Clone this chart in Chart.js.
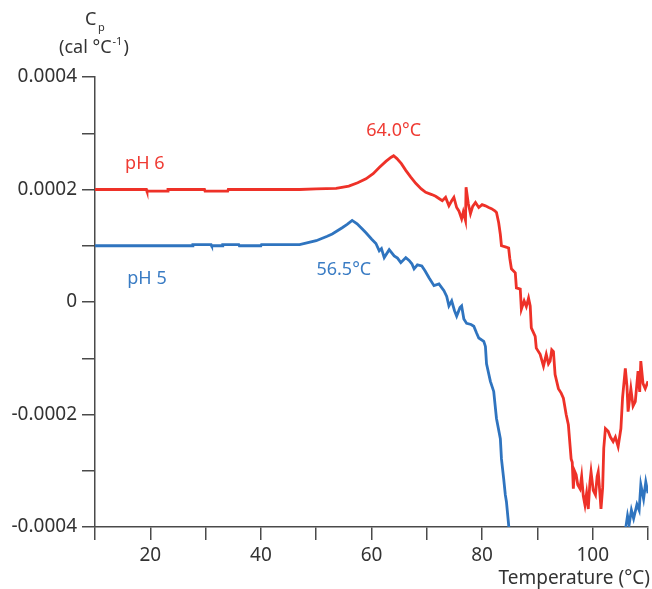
<!DOCTYPE html>
<html lang="en">
<head>
  <meta charset="UTF-8" />
  <title>Cp vs Temperature</title>
  <script src="https://cdn.jsdelivr.net/npm/chart.js@4.4.0/dist/chart.umd.min.js"></script>
  <style>
    body { margin: 0; background: #fff; }
    #wrap { width: 652px; height: 589px; }
  </style>
</head>
<body>
  <div id="wrap"><canvas id="cpChart" width="652" height="589"></canvas></div>

  <script>
    // Cp values are in units of 1e-4 cal/°C
    const tempPH6 = [10, 19.3, 19.4, 23.1, 23.2, 29.8, 29.9, 34.0, 34.1, 47.0, 50.0, 53.6, 55.9, 57.5, 59.0, 60.3,
      61.4, 62.6, 63.5, 64.0, 64.6, 65.4, 66.2, 67.1, 68.0, 69.0, 69.8, 70.9, 71.6, 72.2, 72.8, 73.4, 74.0, 74.5,
      74.9, 75.4, 75.8, 76.3, 76.6, 77.0, 77.1, 77.5, 77.9, 78.3, 78.8, 79.4, 80.0, 80.6, 81.2, 81.7, 82.3, 82.6,
      83.0, 83.3, 83.5, 84.2, 84.8, 85.0, 85.3, 86.0, 86.2, 86.9, 87.1, 87.6, 88.0, 88.4, 88.7, 88.9, 89.6, 89.8,
      90.5, 91.1, 91.6, 92.0, 92.3, 92.6, 92.9, 93.2, 93.8, 94.3, 94.7, 95.2, 95.6, 96.1, 96.3, 96.5, 96.7, 97.0,
      97.3, 97.7, 98.0, 98.3, 98.6, 98.9, 99.2, 99.5, 99.7, 100.1, 100.5, 100.8, 101.0, 101.3, 101.5, 101.8, 102.0,
      102.3, 102.8, 103.2, 103.7, 104.1, 104.6, 105.1, 105.4, 105.9, 106.2, 106.4, 106.9, 107.3, 107.7, 108.2,
      108.5, 108.7, 109.1, 109.5, 110.0];
    const cpPH6 = [2.00, 2.00, 1.97, 1.97, 2.00, 2.00, 1.97, 1.97, 2.00, 2.00, 2.01, 2.02, 2.06, 2.12, 2.19, 2.28,
      2.39, 2.50, 2.57, 2.60, 2.55, 2.46, 2.34, 2.22, 2.11, 2.01, 1.95, 1.91, 1.88, 1.84, 1.80, 1.86, 1.71, 1.80,
      1.86, 1.68, 1.62, 1.48, 1.60, 1.45, 2.04, 1.75, 1.57, 1.70, 1.77, 1.68, 1.73, 1.71, 1.68, 1.66, 1.62, 1.59,
      1.41, 1.20, 1.00, 0.98, 0.96, 0.78, 0.59, 0.52, 0.25, 0.23, -0.13, 0.02, -0.08, 0.07, -0.07, -0.46, -0.61, -0.82,
      -0.93, -1.14, -0.93, -1.10, -1.05, -0.85, -0.88, -1.29, -1.54, -1.62, -1.71, -2.00, -2.18, -2.79, -2.85, -3.32, -3.00, -3.07,
      -3.25, -3.32, -3.10, -3.45, -3.61, -3.40, -3.68, -3.20, -3.02, -3.35, -3.43, -3.10, -3.02, -3.40, -3.68, -3.30, -2.60,
      -2.25, -2.30, -2.40, -2.48, -2.40, -2.57, -2.25, -1.70, -1.18, -1.50, -1.95, -1.54, -1.85, -1.77, -1.23,
      -1.60, -1.05, -1.45, -1.54, -1.41];

    const tempPH5 = [10, 27.6, 27.7, 31.0, 31.1, 33.0, 33.1, 36.0, 36.1, 40.0, 40.1, 47.0, 50.0, 52.0, 52.9, 54.7,
      55.6, 56.5, 57.4, 58.2, 59.0, 60.0, 60.8, 61.4, 61.8, 62.3, 63.2, 64.1, 64.7, 65.3, 66.2, 66.8, 67.3, 67.7,
      68.3, 69.1, 69.7, 70.4, 71.3, 72.2, 73.1, 73.6, 74.0, 74.5, 75.0, 75.4, 76.0, 76.3, 76.7, 77.2, 78.0, 78.5,
      79.0, 79.4, 80.3, 80.6, 80.8, 81.5, 82.1, 82.6, 83.3, 83.5, 83.9, 84.2, 84.4, 84.8, 85.0, 95.0,
      105.8, 106.0, 106.3, 106.6, 107.0, 107.4, 108.0, 108.4, 108.7, 109.2, 109.6, 110.0];
    const cpPH5 = [1.00, 1.00, 1.02, 1.02, 1.00, 1.00, 1.02, 1.02, 1.00, 1.00, 1.02, 1.02, 1.09, 1.17, 1.21, 1.32,
      1.38, 1.45, 1.39, 1.31, 1.23, 1.12, 1.04, 0.91, 0.95, 0.79, 0.93, 0.82, 0.78, 0.70, 0.79, 0.74, 0.68, 0.59,
      0.66, 0.64, 0.55, 0.43, 0.29, 0.32, 0.20, 0.10, -0.07, 0.02, -0.15, -0.25, -0.10, -0.07, -0.30, -0.38, -0.40, -0.43,
      -0.55, -0.64, -0.70, -0.79, -1.10, -1.41, -1.59, -2.07, -2.43, -2.79, -3.14, -3.43, -3.55, -3.96, -4.30, null,
      -4.30, -4.00, -3.80, -3.95, -3.70, -3.85, -3.60, -3.70, -3.25, -3.50, -3.20, -3.40];

    const xTicks = [20, 40, 60, 80, 100];
    const yTickLabels = ['-0.0004', '-0.0002', '0', '0.0002', '0.0004'];

    const RED = '#ee3128';
    const BLUE = '#2f74bf';
    const AXIS = '#4a4a4a';
    const FONT = '"Noto Sans", sans-serif';

    const toPoints = (xs, ys) => xs.map((x, i) => ({ x: x, y: ys[i] }));

    // curve labels and axis titles, placed through the scales
    const annotations = {
      id: 'annotations',
      afterDatasetsDraw(chart) {
        const { ctx, scales: { x, y } } = chart;
        ctx.save();
        ctx.textAlign = 'center';
        ctx.textBaseline = 'middle';
        ctx.font = '18px ' + FONT;
        ctx.fillStyle = '#ef3b33';
        ctx.fillText('pH 6', x.getPixelForValue(19.0), y.getPixelForValue(2.46));
        ctx.fillText('64.0°C', x.getPixelForValue(64.0), y.getPixelForValue(3.04));
        ctx.fillStyle = '#3a7cc4';
        ctx.fillText('pH 5', x.getPixelForValue(19.4), y.getPixelForValue(0.41));
        ctx.fillText('56.5°C', x.getPixelForValue(55.0), y.getPixelForValue(0.57));

        // y title: C with subscript p, unit line below
        ctx.fillStyle = '#333';
        ctx.font = '18px ' + FONT;
        ctx.textAlign = 'left';
        ctx.fillText('C', 85, 20);
        ctx.font = '11px ' + FONT;
        ctx.fillText('p', 98, 28);
        ctx.font = '18px ' + FONT;
        ctx.fillText('(cal °C', 59, 48);
        const w = ctx.measureText('(cal °C').width;
        ctx.font = '11px ' + FONT;
        ctx.fillText('-1', 59 + w + 1, 42);
        const w2 = ctx.measureText('-1').width;
        ctx.font = '18px ' + FONT;
        ctx.fillText(')', 59 + w + w2 + 2, 48);

        // x title
        ctx.textAlign = 'right';
        ctx.font = '19px ' + FONT;
        ctx.fillText('Temperature (°C)', 650, 579);
        ctx.restore();
      }
    };

    new Chart(document.getElementById('cpChart'), {
      type: 'line',
      data: {
        datasets: [
          { label: 'pH 6', data: toPoints(tempPH6, cpPH6), borderColor: RED, borderWidth: 2.8 },
          { label: 'pH 5', data: toPoints(tempPH5, cpPH5), borderColor: BLUE, borderWidth: 2.8 }
        ]
      },
      options: {
        responsive: false,
        animation: false,
        spanGaps: false,
        layout: { padding: { top: 77, right: 2, left: 0, bottom: 0 } },
        elements: { point: { radius: 0 }, line: { tension: 0 } },
        plugins: { legend: { display: false }, tooltip: { enabled: false } },
        scales: {
          x: {
            type: 'linear',
            min: 10,
            max: 110,
            afterFit: s => { s.height = 62; },
            ticks: {
              stepSize: 10,
              padding: 4,
              color: '#333',
              font: { family: FONT, size: 19 },
              maxRotation: 0,
              autoSkip: false,
              callback: v => xTicks.includes(v) ? String(v) : ''
            },
            grid: { drawOnChartArea: false, drawTicks: true, tickLength: 13, color: AXIS, lineWidth: 1.5 },
            border: { display: true, color: AXIS, width: 1.5 }
          },
          y: {
            type: 'linear',
            min: -4,
            max: 4,
            afterFit: s => { s.width = 95; },
            ticks: {
              stepSize: 1,
              padding: 5,
              color: '#333',
              font: { family: FONT, size: 19 },
              autoSkip: false,
              callback: v => (v % 2 === 0) ? yTickLabels[(v + 4) / 2] : ''
            },
            grid: { drawOnChartArea: false, drawTicks: true, tickLength: 13, color: AXIS, lineWidth: 1.5 },
            border: { display: true, color: AXIS, width: 1.5 }
          }
        }
      },
      plugins: [annotations]
    });
  </script>
</body>
</html>
